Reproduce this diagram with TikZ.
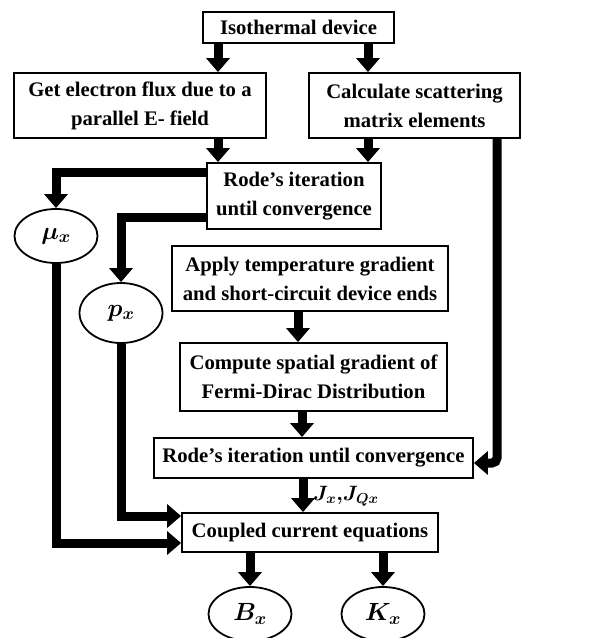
\documentclass[tikz,border=0pt]{standalone}
\usepackage{fontspec}
\setmainfont{Liberation Serif}
\usepackage{amsmath,bm}
\usetikzlibrary{arrows.meta,shapes.geometric}
\begin{document}
\begin{tikzpicture}[x=1pt,y=-1pt,
  box/.style={draw, line width=1.8pt, align=center, inner sep=0pt,
    font=\fontsize{20.7}{29}\selectfont\bfseries},
  oval/.style={draw, ellipse, line width=1.8pt, inner sep=0pt,
    minimum width=83pt, font=\fontsize{25}{28}\selectfont},
  arr/.style={line width=9pt, -{Triangle[width=23pt,length=14pt]}},
]
\useasboundingbox (0,0) rectangle (593,638);
\fill[white] (0,0) rectangle (593,638);

\coordinate (c218) at (218,0);
\coordinate (c368) at (368,0);
\coordinate (c497) at (497,0);
\coordinate (c298) at (298,0);
\coordinate (c302) at (302,0);
\coordinate (c303) at (303,0);

\node[box, minimum width=191pt, minimum height=31pt] (iso) at (298.5,27.5) {Isothermal device};
\node[box, minimum width=252pt, minimum height=65pt] (get) at (140,105.5) {Get electron flux due to a\\parallel E- field};
\node[box, minimum width=211pt, minimum height=65pt] (calc) at (414.5,105.5) {Calculate scattering\\matrix elements};
\node[box, minimum width=174pt, minimum height=66pt] (rode1) at (294,196) {Rode’s iteration\\until convergence};
\node[oval, minimum height=54pt] (mu) at (56,236) {$\bm{\mu_x}$};
\node[oval, minimum height=60pt] (p) at (121,313) {$\bm{p_x}$};
\node[box, minimum width=276pt, minimum height=65pt] (apply) at (310,278.5) {Apply temperature gradient\\and short-circuit device ends};
\node[box, minimum width=267pt, minimum height=68pt] (compute) at (313.5,377) {Compute spatial gradient of\\Fermi-Dirac Distribution};
\node[box, minimum width=319pt, minimum height=40pt] (rode2) at (313.5,458) {Rode’s iteration until convergence};
\node[box, minimum width=256pt, minimum height=39pt] (coupled) at (310,532.5) {Coupled current equations};
\node[oval, minimum height=54pt] (B) at (250,614) {$\bm{B_x}$};
\node[oval, minimum height=54pt] (K) at (383,614) {$\bm{K_x}$};

\draw[arr] (iso.south -| c218) -- (get.north -| c218);
\draw[arr] (iso.south -| c368) -- (calc.north -| c368);
\draw[arr] (get.south -| c218) -- (rode1.north -| c218);
\draw[arr] (calc.south -| c368) -- (rode1.north -| c368);
\draw[arr] ([yshift=24pt]rode1.west) -| (mu.north);
\draw[arr] ([yshift=-21pt]rode1.west) -| (p.north);
\draw[arr] (mu.south) |- ([yshift=-10.5pt]coupled.west);
\draw[arr] (p.south) |- ([yshift=16.5pt]coupled.west);
\draw[arr, rounded corners=5pt] (calc.south -| c497) |- ([yshift=-5pt]rode2.east);
\draw[arr] (apply.south -| c298) -- (compute.north -| c298);
\draw[arr] (compute.south -| c302) -- (rode2.north -| c302);
\draw[arr] (rode2.south -| c303) -- (coupled.north -| c303);
\node[anchor=west, inner sep=0pt, font=\fontsize{20}{24}\selectfont] (jlab) at (313,496) {$\bm{J_x,\!J_{Qx}}$};
\draw[arr] (coupled.south -| B.north) -- (B.north);
\draw[arr] (coupled.south -| K.north) -- (K.north);
\end{tikzpicture}
\end{document}
